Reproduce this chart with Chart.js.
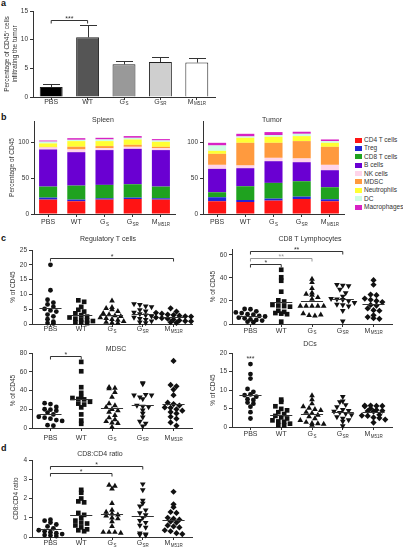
<!DOCTYPE html>
<html>
<head>
<meta charset="utf-8">
<script src="https://cdn.jsdelivr.net/npm/chart.js@4.4.1/dist/chart.umd.min.js"></script>
<style>
    body { margin: 0; width: 403px; height: 550px; position: relative; overflow: hidden; background: #fff; font-family: "Liberation Sans", Arial, sans-serif; color: #333; }
    .tag { position: absolute; font-weight: bold; font-size: 9px; color: #111; }
    #legend { position: absolute; left: 355px; top: 136px; font-size: 6.5px; }
    #legend div { height: 8.4px; line-height: 8.4px; white-space: nowrap; }
    #legend span { display: inline-block; width: 6.5px; height: 5px; margin-right: 2.5px; vertical-align: -0.5px; }
</style>
</head>
<body>
<div class="tag" style="left:1px;top:-2px">a</div>
<div class="tag" style="left:1px;top:112px">b</div>
<div class="tag" style="left:1px;top:233px">c</div>
<div class="tag" style="left:1px;top:443px">d</div>
<div id="legend"></div>

<script>
// ===== DATA =====
const groups = ['PBS', 'WT', 'G', 'G', 'M'];
const groupSubs = ['', '', 'S', 'SR', 'M51R'];

// a: % CD45+ cells infiltrating the tumour (mean, SEM)
const infiltration = [1.75, 10.4, 5.7, 6.1, 6.0];
const infiltrationSem = [0.45, 2.1, 0.6, 0.8, 0.8];

// b: immune composition, rows follow cellTypes, columns follow groups
const cellTypes = ['CD4 T cells', 'Treg', 'CD8 T cells', 'B cells', 'NK cells', 'MDSC', 'Neutrophils', 'DC', 'Macrophages'];
const spleenPct = [
    [20.1, 17.8, 20.1, 21.0, 20.1],
    [2.8, 2.3, 1.9, 1.9, 1.9],
    [15.4, 19.6, 18.7, 18.7, 16.3],
    [51.9, 46.7, 48.6, 49.5, 51.0],
    [2.8, 3.8, 2.7, 2.8, 2.7],
    [0.7, 3.8, 2.9, 2.8, 1.9],
    [5.0, 7.9, 7.0, 7.5, 7.0],
    [2.5, 1.8, 2.3, 2.3, 1.9],
    [1.5, 2.3, 2.3, 2.4, 1.9]
];
const tumorPct = [
    [17.8, 16.8, 18.7, 21.0, 17.8],
    [5.6, 2.8, 2.8, 3.3, 2.8],
    [7.0, 19.2, 22.0, 21.5, 16.8],
    [32.7, 25.2, 30.3, 26.6, 23.8],
    [5.6, 3.8, 4.7, 5.2, 7.5],
    [15.4, 31.7, 21.0, 24.3, 25.2],
    [4.2, 7.0, 8.4, 7.0, 5.6],
    [7.5, 1.9, 2.4, 3.2, 2.4],
    [3.7, 3.7, 4.2, 2.9, 2.3]
];

// c: individual mice, one list per group
const tregPct = [
    [20, 11.4, 8.2, 7.2, 6.6, 5.8, 5.1, 4.6, 4.2, 3.2, 2.6, 1.6, 0.8, 0.3, 0.2],
    [8, 7.5, 5.8, 4.8, 4.2, 3.6, 3.0, 2.5, 2.2, 1.8, 1.5, 1.2, 1, 0.6, 0.5, 0.3],
    [7.8, 5.6, 5.3, 4.9, 4.3, 3.6, 3.2, 2.8, 2.6, 2.2, 1.9, 1.6, 1.3, 0.9, 0.6, 0.4, 0.3],
    [6.8, 6.5, 6.0, 5.8, 4.8, 4.3, 3.9, 3.4, 3.0, 2.6, 2.2, 1.8, 1.5, 1.0, 0.6, 0.4],
    [5.3, 4.2, 3.8, 3.5, 3.2, 3.0, 2.8, 2.6, 2.5, 2.2, 2.0, 1.8, 1.5, 1.2, 1.0, 0.9, 0.6, 0.4]
];
const cd8Pct = [
    [13, 12.8, 11, 10, 9.5, 8.5, 8, 7, 6.5, 5.5, 5, 4, 3.5, 3, 2, 1.5],
    [47, 40.5, 37.5, 28, 20.5, 19.5, 16.5, 16, 15.5, 15, 11.5, 10.5, 9.5, 9, 8.5, 2],
    [39, 36, 31, 27, 26, 25, 23, 21.5, 15.5, 15.5, 15.5, 15.5, 15.5, 9, 7.5, 7, 8],
    [34, 33.5, 33, 30, 27, 24, 22, 21.5, 21, 20, 18.5, 17, 16.5, 15.5, 11.5, 2.5],
    [38, 34, 25.5, 25, 22, 21, 20, 19, 16.5, 16, 13.5, 12, 11.5, 7.5, 6, 5, 4.5]
];
const mdscPct = [
    [26.5, 25.5, 22.5, 20, 19.5, 18.5, 16.5, 14.5, 12, 11, 10, 8.5, 7.5, 3, 2.5],
    [70.5, 60.5, 43.5, 37.5, 33, 32, 31, 30.5, 28, 26, 25, 22, 14.5, 8, 4.5],
    [43.5, 42.5, 42, 38, 33, 26, 24, 22, 20, 18.5, 17, 13.5, 11, 9, 7, 5.5, 5, 1],
    [48, 47, 35, 33, 35.5, 35, 31, 24, 23, 22.5, 19, 15.5, 11.5, 7, 5, 2],
    [71.5, 46, 44.5, 41, 35, 27, 25.5, 24, 22, 21.5, 20, 18.5, 17, 15.5, 12, 10, 6, 2.5]
];
const dcPct = [
    [17, 14.3, 13.1, 10.3, 9.5, 8.6, 8.8, 8.2, 7.5, 7.3, 6.6, 6.3, 5.5, 4.0, 2.3],
    [7.4, 6.8, 5.6, 4.9, 4.5, 4.0, 3.5, 3.0, 2.6, 2.3, 1.8, 1.5, 1.4, 0.9, 0.5, 0.4],
    [8.5, 7.4, 6.3, 5.5, 5.1, 4.8, 4.5, 4.0, 3.7, 3.2, 2.8, 2.3, 1.8, 1.3, 1.0, 0.9, 0.8, 0.5],
    [8.2, 7.0, 6.8, 6.0, 5.4, 4.7, 4.4, 4.2, 3.9, 3.6, 3.3, 2.7, 2.3, 1.9, 1.5, 0.3],
    [5.8, 5.8, 5.7, 5.7, 5.6, 5.0, 4.6, 4.4, 4.3, 4.2, 3.3, 3.1, 3.0, 2.6, 2.4, 2.0, 1.2]
];

// d
const cd8cd4Ratio = [
    [0.9, 0.85, 0.75, 0.65, 0.55, 0.45, 0.35, 0.3, 0.25, 0.2, 0.15, 0.1, 0.08, 0.05],
    [2.45, 2.3, 2.0, 1.85, 1.8, 1.25, 1.15, 1.0, 0.85, 0.75, 0.7, 0.6, 0.5, 0.4, 0.35, 0.3],
    [2.7, 2.65, 2.5, 1.75, 1.4, 1.3, 1.2, 1.1, 1.0, 1.15, 0.95, 0.8, 0.55, 0.25, 0.25, 0.25, 0.2],
    [2.75, 2.45, 1.9, 1.75, 1.6, 1.4, 1.25, 1.15, 1.0, 0.85, 0.75, 0.6, 0.5, 0.2, 0.15, 0.12, 0.1],
    [2.35, 1.7, 1.55, 1.3, 1.25, 1.0, 0.95, 0.9, 0.8, 0.75, 0.6, 0.55, 0.5, 0.35, 0.3, 0.2, 0.15]
];

// ===== STYLE =====
const face = '"Liberation Sans", Arial, sans-serif';
const ink = '#333';
const barGreys = ['#000000', '#555555', '#999999', '#cfcfcf', '#ffffff'];
const cellColors = ['#ff1414', '#2323d6', '#1fa21f', '#6a00d2', '#ffd4ea', '#ff9a3e', '#ffff33', '#cdfde3', '#d822c4'];
const markers = ['circle', 'rect', 'triangle', 'triangle', 'rectRot'];
const markerTurn = [0, 0, 0, 180, 0];
const markerSize = [2.4, 3.3, 3.3, 3.3, 3.1];

Chart.defaults.font.family = face;
Chart.defaults.color = ink;
Chart.defaults.animation = false;

const mean = a => a.reduce((s, v) => s + v, 0) / a.length;

// spread points of one column sideways when their values are close (column scatter)
function spread(values, yMax) {
    const bin = yMax / 16;
    const buckets = {};
    values.forEach(v => {
        const k = Math.round(v / bin);
        (buckets[k] = buckets[k] || []).push(v);
    });
    const pts = [];
    Object.values(buckets).forEach(list => {
        list.forEach((v, k) => pts.push({ off: (k - (list.length - 1) / 2) * 0.19, y: v }));
    });
    return pts;
}

// ===== DECOR PLUGIN: titles, group labels, means, error bars, brackets =====
const decor = {
    id: 'decor',
    afterDraw(chart, args, o) {
        const ctx = chart.ctx, xs = chart.scales.x, ys = chart.scales.y, area = chart.chartArea;
        ctx.save();
        ctx.fillStyle = ink;
        ctx.strokeStyle = ink;
        ctx.lineWidth = 1;

        if (o.title) {
            ctx.font = '7px ' + face;
            ctx.textAlign = 'center';
            ctx.textBaseline = 'middle';
            ctx.fillText(o.title, o.titleX, o.titleY);
        }

        // group labels with subscripts
        groups.forEach((g, i) => {
            const x = xs.getPixelForValue(i);
            const y = area.bottom + o.labelDy;
            ctx.font = '7px ' + face;
            const w1 = ctx.measureText(g).width;
            ctx.font = '4.5px ' + face;
            const w2 = groupSubs[i] ? ctx.measureText(groupSubs[i]).width + 0.4 : 0;
            const x0 = x - (w1 + w2) / 2;
            ctx.textAlign = 'left';
            ctx.textBaseline = 'middle';
            ctx.font = '7px ' + face;
            ctx.fillText(g, x0, y);
            if (w2) {
                ctx.font = '4.5px ' + face;
                ctx.fillText(groupSubs[i], x0 + w1 + 0.4, y + 2.2);
            }
        });

        // mean lines
        (o.means || []).forEach((m, i) => {
            const y = Math.round(ys.getPixelForValue(m)) + 0.5;
            ctx.beginPath();
            ctx.moveTo(xs.getPixelForValue(i - 0.36), y);
            ctx.lineTo(xs.getPixelForValue(i + 0.36), y);
            ctx.stroke();
        });

        // error bars (upper only)
        if (o.errors) {
            o.errors.forEach((e, i) => {
                const x = Math.round(xs.getPixelForValue(i)) + 0.5;
                const yb = ys.getPixelForValue(o.values[i]);
                const yt = Math.round(ys.getPixelForValue(o.values[i] + e)) + 0.5;
                ctx.beginPath();
                ctx.moveTo(x, yb);
                ctx.lineTo(x, yt);
                ctx.moveTo(x - 8.5, yt);
                ctx.lineTo(x + 8.5, yt);
                ctx.stroke();
            });
        }

        // significance brackets
        (o.brackets || []).forEach(([a, b, level, mark, col]) => {
            const y = Math.round(ys.getPixelForValue(level)) + 0.5;
            const xa = xs.getPixelForValue(a), xb = xs.getPixelForValue(b);
            ctx.strokeStyle = col || ink;
            ctx.fillStyle = col || ink;
            if (a !== b) {
                ctx.beginPath();
                ctx.moveTo(xa, y + 3);
                ctx.lineTo(xa, y);
                ctx.lineTo(xb, y);
                ctx.lineTo(xb, y + 3);
                ctx.stroke();
            }
            ctx.font = '7px ' + face;
            ctx.textAlign = 'center';
            ctx.textBaseline = 'alphabetic';
            ctx.fillText(mark, (xa + xb) / 2, a !== b ? y + 0.5 : y + 4);
        });
        ctx.restore();
    }
};
Chart.register(decor);

// ===== LAYOUT HELPERS =====
function place(L, T, W, H, x1, y1, x2, y2) {
    const c = document.createElement('canvas');
    c.width = W;
    c.height = H;
    c.style.cssText = `position:absolute;left:${L}px;top:${T}px;width:${W}px;height:${H}px`;
    document.body.appendChild(c);
    return { c, yW: x1 - L, padT: y1 - T, padR: L + W - x2, xH: T + H - y2 };
}

function yAxis(box, max, step, title, titlePad, stacked) {
    return {
        stacked: !!stacked,
        min: 0,
        max: max,
        afterFit: s => { s.width = box.yW; },
        border: { display: true, color: ink, width: 1 },
        grid: { drawOnChartArea: false, drawTicks: true, tickLength: 3, color: ink },
        ticks: { stepSize: step, includeBounds: false, font: { size: 6.5 }, color: ink, padding: 2 },
        title: { display: !!title, text: title, font: { size: 6.5 }, color: ink, padding: { top: titlePad, bottom: 0 } }
    };
}

function catAxis(box, stacked) {
    return {
        type: 'category',
        stacked: !!stacked,
        offset: true,
        afterFit: s => { s.height = box.xH; },
        border: { display: true, color: ink, width: 1 },
        grid: { offset: false, drawOnChartArea: false, drawTicks: true, tickLength: 3, color: ink },
        ticks: { display: false }
    };
}

function linAxis(box) {
    return {
        type: 'linear',
        min: -0.6,
        max: 4.6,
        afterBuildTicks: s => { s.ticks = groups.map((g, i) => ({ value: i })); },
        afterFit: s => { s.height = box.xH; },
        border: { display: true, color: ink, width: 1 },
        grid: { drawOnChartArea: false, drawTicks: true, tickLength: 3, color: ink },
        ticks: { display: false }
    };
}

const catLabels = groups.map((g, i) => g + groupSubs[i]);

// ===== a: bar chart =====
const boxA = place(0, 0, 218, 108, 33, 11, 215, 97);
new Chart(boxA.c, {
    type: 'bar',
    data: {
        labels: catLabels,
        datasets: [{
            data: infiltration,
            backgroundColor: barGreys,
            borderColor: '#222',
            borderWidth: 1,
            barPercentage: 0.63,
            categoryPercentage: 1
        }]
    },
    options: {
        responsive: false,
        layout: { padding: { top: boxA.padT, right: boxA.padR, left: 0, bottom: 0 } },
        plugins: {
            legend: { display: false },
            tooltip: { enabled: false },
            decor: {
                labelDy: 5,
                values: infiltration,
                errors: infiltrationSem,
                brackets: [[0, 1, 13.4, '***']]
            }
        },
        scales: {
            x: catAxis(boxA),
            y: yAxis(boxA, 15, 5, ['Percentage of CD45\u207A cells', 'infiltrating the tumor'], 3.6)
        }
    }
});

// ===== b: stacked composition =====
function stackChart(box, rows, title, titleX, yTitle) {
    return new Chart(box.c, {
        type: 'bar',
        data: {
            labels: catLabels,
            datasets: rows.map((row, k) => ({
                label: cellTypes[k],
                data: row,
                backgroundColor: cellColors[k],
                borderWidth: 0,
                barPercentage: 0.64,
                categoryPercentage: 1
            }))
        },
        options: {
            responsive: false,
            layout: { padding: { top: box.padT, right: box.padR, left: 0, bottom: 0 } },
            plugins: {
                legend: { display: false },
                tooltip: { enabled: false },
                decor: { title: title, titleX: titleX, titleY: 10.3, labelDy: 8.3 }
            },
            scales: {
                x: catAxis(box, true),
                y: yAxis(box, 130, 50, yTitle, 8.6, true)
            }
        }
    });
}
const boxSpleen = place(0, 110, 180, 120, 34, 121, 175, 214);
stackChart(boxSpleen, spleenPct, 'Spleen', 103, 'Percentage of CD45');
const boxTumor = place(180, 110, 168, 120, 203, 121, 344, 214);
stackChart(boxTumor, tumorPct, 'Tumor', 92, '');

const legend = document.getElementById('legend');
cellTypes.forEach((name, k) => {
    const row = document.createElement('div');
    row.innerHTML = `<span style="background:${cellColors[k]}"></span>${name}`;
    legend.appendChild(row);
});

// ===== c, d: column scatter panels =====
function scatterChart(box, sets, max, step, opts) {
    return new Chart(box.c, {
        type: 'scatter',
        data: {
            datasets: sets.map((vals, gi) => ({
                data: spread(vals, max).map(p => ({ x: gi + p.off, y: p.y })),
                pointStyle: markers[gi],
                pointRotation: markerTurn[gi],
                pointRadius: markerSize[gi],
                pointBackgroundColor: '#111',
                pointBorderColor: '#111',
                pointBorderWidth: 0,
                clip: false
            }))
        },
        options: {
            responsive: false,
            layout: { padding: { top: box.padT, right: box.padR, left: 0, bottom: 0 } },
            plugins: {
                legend: { display: false },
                tooltip: { enabled: false },
                decor: {
                    title: opts.title,
                    titleX: opts.titleX,
                    titleY: opts.titleY,
                    labelDy: opts.labelDy,
                    means: sets.map(mean),
                    brackets: opts.brackets
                }
            },
            scales: {
                x: linAxis(box),
                y: yAxis(box, max, step, opts.yTitle, opts.yPad)
            }
        }
    });
}

scatterChart(place(0, 234, 200, 104, 32, 250, 192, 324), tregPct, 25, 5, {
    title: 'Regulatory T cells', titleX: 108, titleY: 5.5, labelDy: 5.2,
    yTitle: '% of CD45', yPad: 9, brackets: [[0, 4, 22.4, '*']]
});
scatterChart(place(200, 234, 203, 104, 232, 249, 392, 324), cd8Pct, 65, 20, {
    title: 'CD8 T Lymphocytes', titleX: 110, titleY: 5.5, labelDy: 6.6,
    yTitle: '% of CD45', yPad: 9,
    brackets: [[0, 1, 51.7, '*'], [0, 2, 56.9, '**', '#999'], [0, 3, 63.3, '**']]
});
scatterChart(place(0, 340, 200, 106, 32, 353, 192, 428), mdscPct, 80, 20, {
    title: 'MDSC', titleX: 116, titleY: 8.8, labelDy: 10,
    yTitle: '% of CD45', yPad: 9, brackets: [[0, 1, 77, '*']]
});
scatterChart(place(200, 338, 203, 106, 232, 353, 392, 427), dcPct, 20, 5, {
    title: 'DCs', titleX: 110, titleY: 6.3, labelDy: 7.2,
    yTitle: '% of CD45', yPad: 9, brackets: [[0, 0, 19.2, '***']]
});
scatterChart(place(0, 446, 200, 104, 32, 460, 192, 537), cd8cd4Ratio, 4, 1, {
    title: 'CD8:CD4 ratio', titleX: 100, titleY: 7.7, labelDy: 6.3,
    yTitle: 'CD8:CD4 ratio', yPad: 12.5,
    brackets: [[0, 2, 3.34, '*'], [0, 3, 3.68, '*']]
});
</script>
</body>
</html>
